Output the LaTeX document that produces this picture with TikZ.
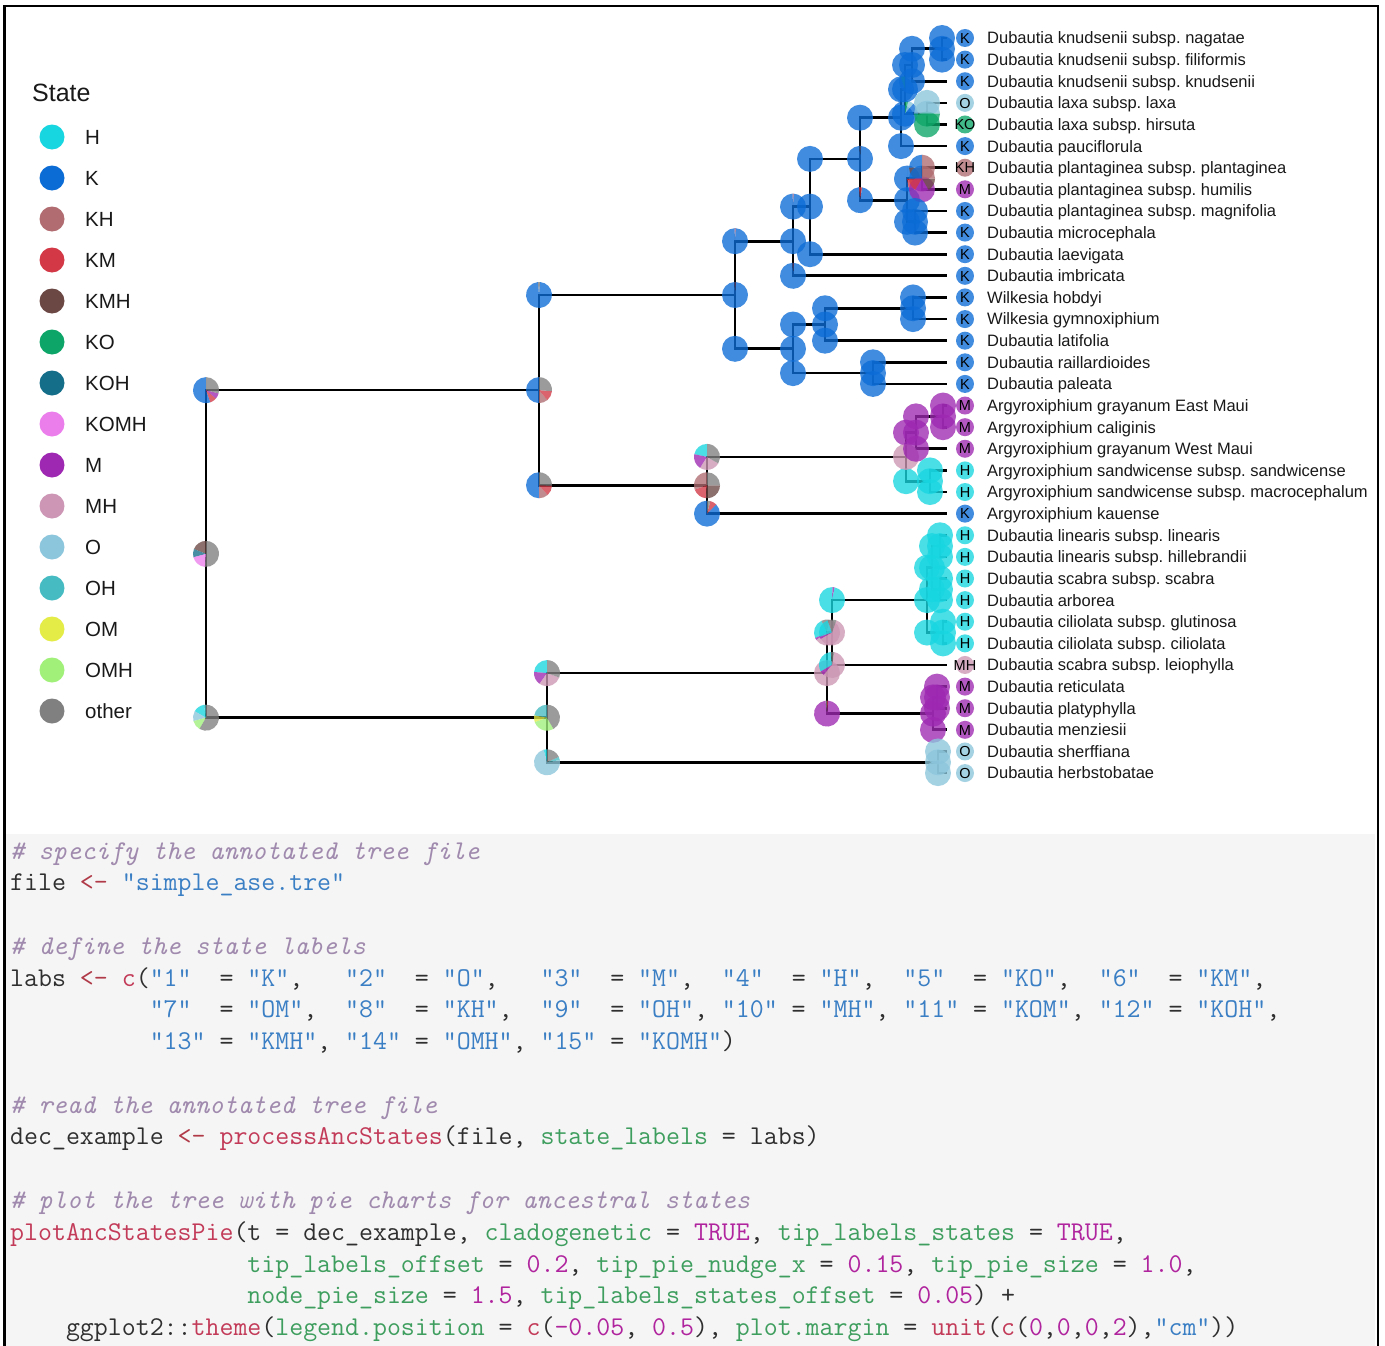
\documentclass[tikz,border=0pt]{standalone}
\usepackage{fontspec}
\newfontfamily\lsans{Liberation Sans}
\definecolor{cH}{RGB}{24,214,224}
\definecolor{cK}{RGB}{12,108,214}
\definecolor{cKH}{RGB}{176,108,112}
\definecolor{cKM}{RGB}{210,56,70}
\definecolor{cKMH}{RGB}{108,72,68}
\definecolor{cKO}{RGB}{14,166,104}
\definecolor{cKOH}{RGB}{20,110,138}
\definecolor{cKOMH}{RGB}{236,126,236}
\definecolor{cM}{RGB}{158,40,178}
\definecolor{cMH}{RGB}{204,150,180}
\definecolor{cO}{RGB}{140,198,220}
\definecolor{cOH}{RGB}{70,188,194}
\definecolor{cOM}{RGB}{228,236,72}
\definecolor{cOMH}{RGB}{160,240,122}
\definecolor{cother}{RGB}{128,128,128}
\definecolor{codebg}{HTML}{F5F5F5}
\definecolor{ctext}{HTML}{2F2F2F}
\definecolor{ccom}{HTML}{A08AAE}
\definecolor{cop}{HTML}{B03A48}
\definecolor{cstr}{HTML}{3A7EC4}
\definecolor{cfun}{HTML}{C23A58}
\definecolor{carg}{HTML}{3E9E5E}
\definecolor{cnum}{HTML}{B0249E}
\newcommand\pieat[2]{\foreach \pc/\pa/\pb in {#2}{\fill[\pc,fill opacity=0.78] #1 -- ++(-\pa:13) arc[start angle=-\pa,end angle=-\pb,radius=13] -- cycle;}}
\newcommand\dotat[2]{\fill[#2,fill opacity=0.78] #1 circle[radius=13];}
\newcommand\tri[4]{\dotat{(#1 |- #2)}{#4}\dotat{(#1 |- #3)}{#4}\dotat{(#1)}{#4}}
\newcommand\codeline[2]{\node[codeln] (cl#1) at (10,{859+31.77*#1}) {#2};}
\begin{document}
\begin{tikzpicture}[x=1pt,y=-1pt,
  branch/.style={line width=2.7pt,black},
  codeln/.style={anchor=base west,inner sep=0pt,font=\ttfamily\fontsize{27.1}{32}\selectfont,text=ctext},
  tiplab/.style={anchor=base west,inner sep=0pt,font={\lsans\fontsize{16.5}{19}\selectfont\frenchspacing},text=black!90},
  tipst/.style={anchor=base,inner sep=0pt,font={\lsans\fontsize{14.5}{16}\selectfont},text=black},
  leglab/.style={anchor=base west,inner sep=0pt,font={\lsans\fontsize{20.5}{24}\selectfont},text=black!90}]
\useasboundingbox (0,0) rectangle (1385,1346);
\fill[white] (0,0) rectangle (1385,1346);
\fill[codebg] (6,834) rectangle (1374.5,1400);
\draw[line width=2.4pt] (4.5,6) rectangle (1378,1400);

% ---------- legend ----------
\node[anchor=base west,inner sep=0pt,font={\lsans\fontsize{25}{30}\selectfont},text=black!90] (legtitle) at (32,101) {State};
\foreach \k/\nm [count=\j from 0] in {cH/H,cK/K,cKH/KH,cKM/KM,cKMH/KMH,cKO/KO,cKOH/KOH,cKOMH/KOMH,cM/M,cMH/MH,cO/O,cOH/OH,cOM/OM,cOMH/OMH,cother/other}{
  \fill[\k] (52,{137+41*\j}) circle[radius=12.5];
  \node[leglab] (leg\j) at (85,{137+41*\j+7.4}) {\nm};
}

% ---------- internal nodes ----------
\coordinate (root) at (206,553.9);
\coordinate (n1_23) at (539,390.1);
\coordinate (n24_35) at (547,717.7);
\coordinate (n1_17) at (735,295.0);
\coordinate (n18_23) at (707,485.25);
\coordinate (n1_12) at (793,241.2);
\coordinate (n13_17) at (793,348.8);
\coordinate (n1_11) at (810,206.6);
\coordinate (n1_10) at (860,158.9);
\coordinate (n1_6) at (901,117.7);
\coordinate (n1_5) at (905,89.35);
\coordinate (n1_3) at (912,65.0);
\coordinate (n1_2) at (942,48.8);
\coordinate (n4_5) at (927,113.7);
\coordinate (n7_10) at (907,200.15);
\coordinate (n7_8) at (922,178.5);
\coordinate (n9_10) at (915,221.8);
\coordinate (n13_15) at (825,324.5);
\coordinate (n13_14) at (913,308.25);
\coordinate (n16_17) at (873,373.1);
\coordinate (n18_22) at (906,456.9);
\coordinate (n18_20) at (916,432.6);
\coordinate (n18_19) at (943,416.35);
\coordinate (n21_22) at (930,481.2);
\coordinate (n24_33) at (827,673.1);
\coordinate (n24_30) at (832,632.55);
\coordinate (n24_29) at (927,600.1);
\coordinate (n24_27) at (932,567.7);
\coordinate (n24_25) at (940,546.1);
\coordinate (n26_27) at (940,589.3);
\coordinate (n28_29) at (943,632.55);
\coordinate (n31_33) at (933,713.6);
\coordinate (n31_32) at (937,697.4);
\coordinate (n34_35) at (938,762.3);
\foreach \i in {1,...,35}{\coordinate (t\i) at (947,{38+21.62*(\i-1)});}

% ---------- branches ----------
\foreach \p/\q in {root/n1_23, root/n24_35, n1_23/n1_17, n1_23/n18_23,
  n1_17/n1_12, n1_17/n13_17, n1_12/n1_11, n1_12/t12, n1_11/n1_10, n1_11/t11,
  n1_10/n1_6, n1_10/n7_10, n1_6/n1_5, n1_6/t6, n1_5/n1_3, n1_5/n4_5,
  n1_3/n1_2, n1_3/t3, n1_2/t1, n1_2/t2, n4_5/t4, n4_5/t5,
  n7_10/n7_8, n7_10/n9_10, n7_8/t7, n7_8/t8, n9_10/t9, n9_10/t10,
  n13_17/n13_15, n13_17/n16_17, n13_15/n13_14, n13_15/t15, n13_14/t13, n13_14/t14,
  n16_17/t16, n16_17/t17, n18_23/n18_22, n18_23/t23, n18_22/n18_20, n18_22/n21_22,
  n18_20/n18_19, n18_20/t20, n18_19/t18, n18_19/t19, n21_22/t21, n21_22/t22,
  n24_35/n24_33, n24_35/n34_35, n24_33/n24_30, n24_33/n31_33, n24_30/n24_29, n24_30/t30,
  n24_29/n24_27, n24_29/n28_29, n24_27/n24_25, n24_27/n26_27, n24_25/t24, n24_25/t25,
  n26_27/t26, n26_27/t27, n28_29/t28, n28_29/t29, n31_33/n31_32, n31_33/t33,
  n31_32/t31, n31_32/t32, n34_35/t34, n34_35/t35}{
  \draw[branch] (\p) |- (\q);
}

% ---------- pies ----------
\pieat{(root)}{cother/265/450, cKMH/90/158, cKOH/158/195, cKOMH/195/265}
\pieat{(root |- n1_23)}{cK/90/290, cKM/290/320, cM/320/345, cother/345/450}
\pieat{(root |- n24_35)}{cOH/90/100, cH/100/150, cO/150/195, cOMH/195/240, cother/240/450}
\pieat{(n1_23)}{cK/90/270, cKH/270/310, cKM/310/355, cother/355/450}
\pieat{(n1_23 |- n1_17)}{cother/85/95, cK/95/445}
\pieat{(n1_23 |- n18_23)}{cK/90/270, cKH/270/312, cKM/312/358, cother/358/450}
\pieat{(n24_35)}{cOH/90/170, cOM/170/200, cOMH/200/300, cother/300/450}
\pieat{(n24_35 |- n24_33)}{cH/90/175, cM/175/235, cMH/235/340, cother/340/450}
\pieat{(n24_35 |- n34_35)}{cH/90/105, cO/105/370, cOH/370/385, cother/385/450}
\pieat{(n1_17)}{cKM/87/92, cK/92/447}
\pieat{(n1_17 |- n1_12)}{cKM/87/92, cK/92/447}
\dotat{(n1_17 |- n13_17)}{cK}
\pieat{(n18_23)}{cKH/90/200, cKM/200/265, cKMH/265/360, cother/360/450}
\pieat{(n18_23 |- n18_22)}{cH/90/168, cM/168/238, cMH/238/330, cother/330/450}
\pieat{(n18_23 |- t23)}{cK/90/405, cKM/405/435, cother/435/450}
\dotat{(n1_12)}{cK}
\pieat{(n1_12 |- n1_11)}{cKM/87/92, cK/92/447}
\pieat{(n1_12 |- t12)}{cKM/87/92, cK/92/447}
\tri{n1_11}{n1_10}{t11}{cK}
\dotat{(n1_10 |- n1_6)}{cK}
\pieat{(n1_10 |- n7_10)}{cKM/80/95, cK/95/440}
\pieat{(n1_10)}{cKH/87/92, cK/92/447}
\tri{n1_6}{n1_5}{t6}{cK}
\dotat{(n1_5 |- n1_3)}{cK}
\pieat{(n1_5 |- n4_5)}{cO/50/75, cKO/75/92, cK/92/410}
\pieat{(n1_5)}{cKO/90/110, cK/110/450}
\tri{n1_3}{n1_2}{t3}{cK}
\tri{n1_2}{t1}{t2}{cK}
\dotat{(n4_5 |- t4)}{cO}
\dotat{(n4_5 |- t5)}{cKO}
\pieat{(n4_5)}{cO/0/180, cKO/180/360}
\pieat{(n7_10 |- n7_8)}{cK/90/280, cKM/280/350, cK/350/450}
\dotat{(n7_10 |- n9_10)}{cK}
\dotat{(n7_10)}{cK}
\pieat{(n7_8 |- t7)}{cK/90/180, cKMH/180/270, cKH/270/450}
\dotat{(n7_8 |- t8)}{cM}
\pieat{(n7_8)}{cK/90/180, cKM/180/240, cM/240/300, cKMH/300/360, cKH/360/450}
\tri{n9_10}{t9}{t10}{cK}
\tri{n13_17}{n13_15}{n16_17}{cK}
\tri{n13_15}{n13_14}{t15}{cK}
\tri{n13_14}{t13}{t14}{cK}
\tri{n16_17}{t16}{t17}{cK}
\dotat{(n18_22 |- n18_20)}{cM}
\dotat{(n18_22 |- n21_22)}{cH}
\dotat{(n18_22)}{cMH}
\tri{n18_20}{n18_19}{t20}{cM}
\tri{n18_19}{t18}{t19}{cM}
\tri{n21_22}{t21}{t22}{cH}
\pieat{(n24_33 |- n24_30)}{cH/115/205, cM/205/215, cMH/215/440, cother/440/475}
\pieat{(n24_33 |- n31_33)}{cKM/85/91, cother/91/97, cM/97/445}
\dotat{(n24_33)}{cMH}
\pieat{(n24_30 |- n24_29)}{cM/78/88, cH/88/438}
\pieat{(n24_30 |- t30)}{cH/95/210, cM/210/230, cMH/230/440, cother/440/455}
\pieat{(n24_30)}{cH/110/200, cM/200/210, cMH/210/430, cother/430/470}
\tri{n24_29}{n24_27}{n28_29}{cH}
\tri{n24_27}{n24_25}{n26_27}{cH}
\tri{n24_25}{t24}{t25}{cH}
\tri{n26_27}{t26}{t27}{cH}
\tri{n28_29}{t28}{t29}{cH}
\tri{n31_33}{n31_32}{t33}{cM}
\tri{n31_32}{t31}{t32}{cM}
\tri{n34_35}{t34}{t35}{cO}

% ---------- tips ----------
\foreach \i/\st/\lab in {1/K/Dubautia knudsenii subsp. nagatae, 2/K/Dubautia knudsenii subsp. filiformis, 3/K/Dubautia knudsenii subsp. knudsenii, 4/O/Dubautia laxa subsp. laxa, 5/KO/Dubautia laxa subsp. hirsuta, 6/K/Dubautia pauciflorula, 7/KH/Dubautia plantaginea subsp. plantaginea, 8/M/Dubautia plantaginea subsp. humilis, 9/K/Dubautia plantaginea subsp. magnifolia, 10/K/Dubautia microcephala, 11/K/Dubautia laevigata, 12/K/Dubautia imbricata, 13/K/Wilkesia hobdyi, 14/K/Wilkesia gymnoxiphium, 15/K/Dubautia latifolia, 16/K/Dubautia raillardioides, 17/K/Dubautia paleata, 18/M/Argyroxiphium grayanum East Maui, 19/M/Argyroxiphium caliginis, 20/M/Argyroxiphium grayanum West Maui, 21/H/Argyroxiphium sandwicense subsp. sandwicense, 22/H/Argyroxiphium sandwicense subsp. macrocephalum, 23/K/Argyroxiphium kauense, 24/H/Dubautia linearis subsp. linearis, 25/H/Dubautia linearis subsp. hillebrandii, 26/H/Dubautia scabra subsp. scabra, 27/H/Dubautia arborea, 28/H/Dubautia ciliolata subsp. glutinosa, 29/H/Dubautia ciliolata subsp. ciliolata, 30/MH/Dubautia scabra subsp. leiophylla, 31/M/Dubautia reticulata, 32/M/Dubautia platyphylla, 33/M/Dubautia menziesii, 34/O/Dubautia sherffiana, 35/O/Dubautia herbstobatae}{
  \pgfmathsetmacro\ty{38+21.62*(\i-1)}
  \fill[c\st,fill opacity=0.78] (965,\ty) circle[radius=9];
  \node[tipst] (ts\i) at (965,\ty+5.2) {\st};
  \node[tiplab] (tl\i) at (987,\ty+5.9) {\lab};
}

% ---------- code ----------
\codeline{0}{{\itshape\color{ccom}\#~specify~the~annotated~tree~file}}
\codeline{1}{file~{\color{cop}<-}~{\color{cstr}"simple\_ase.tre"}}
\codeline{3}{{\itshape\color{ccom}\#~define~the~state~labels}}
\codeline{4}{labs~{\color{cop}<-}~{\color{cfun}c}({\color{cstr}"1"}~~=~{\color{cstr}"K"},~~~{\color{cstr}"2"}~~=~{\color{cstr}"O"},~~~{\color{cstr}"3"}~~=~{\color{cstr}"M"},~~{\color{cstr}"4"}~~=~{\color{cstr}"H"},~~{\color{cstr}"5"}~~=~{\color{cstr}"KO"},~~{\color{cstr}"6"}~~=~{\color{cstr}"KM"},}
\codeline{5}{~~~~~~~~~~{\color{cstr}"7"}~~=~{\color{cstr}"OM"},~~{\color{cstr}"8"}~~=~{\color{cstr}"KH"},~~{\color{cstr}"9"}~~=~{\color{cstr}"OH"},~{\color{cstr}"10"}~=~{\color{cstr}"MH"},~{\color{cstr}"11"}~=~{\color{cstr}"KOM"},~{\color{cstr}"12"}~=~{\color{cstr}"KOH"},}
\codeline{6}{~~~~~~~~~~{\color{cstr}"13"}~=~{\color{cstr}"KMH"},~{\color{cstr}"14"}~=~{\color{cstr}"OMH"},~{\color{cstr}"15"}~=~{\color{cstr}"KOMH"})}
\codeline{8}{{\itshape\color{ccom}\#~read~the~annotated~tree~file}}
\codeline{9}{dec\_example~{\color{cop}<-}~{\color{cfun}processAncStates}(file,~{\color{carg}state\_labels}~=~labs)}
\codeline{11}{{\itshape\color{ccom}\#~plot~the~tree~with~pie~charts~for~ancestral~states}}
\codeline{12}{{\color{cfun}plotAncStatesPie}(t~=~dec\_example,~{\color{carg}cladogenetic}~=~{\color{cnum}TRUE},~{\color{carg}tip\_labels\_states}~=~{\color{cnum}TRUE},}
\codeline{13}{~~~~~~~~~~~~~~~~~{\color{carg}tip\_labels\_offset}~=~{\color{cnum}0.2},~{\color{carg}tip\_pie\_nudge\_x}~=~{\color{cnum}0.15},~{\color{carg}tip\_pie\_size}~=~{\color{cnum}1.0},}
\codeline{14}{~~~~~~~~~~~~~~~~~{\color{carg}node\_pie\_size}~=~{\color{cnum}1.5},~{\color{carg}tip\_labels\_states\_offset}~=~{\color{cnum}0.05})~+}
\codeline{15}{~~~~ggplot2::{\color{cfun}theme}({\color{carg}legend.position}~=~{\color{cfun}c}({\color{cnum}-0.05},~{\color{cnum}0.5}),~{\color{carg}plot.margin}~=~{\color{cfun}unit}({\color{cfun}c}({\color{cnum}0},{\color{cnum}0},{\color{cnum}0},{\color{cnum}2}),{\color{cstr}"cm"}))}
\end{tikzpicture}
\end{document}
